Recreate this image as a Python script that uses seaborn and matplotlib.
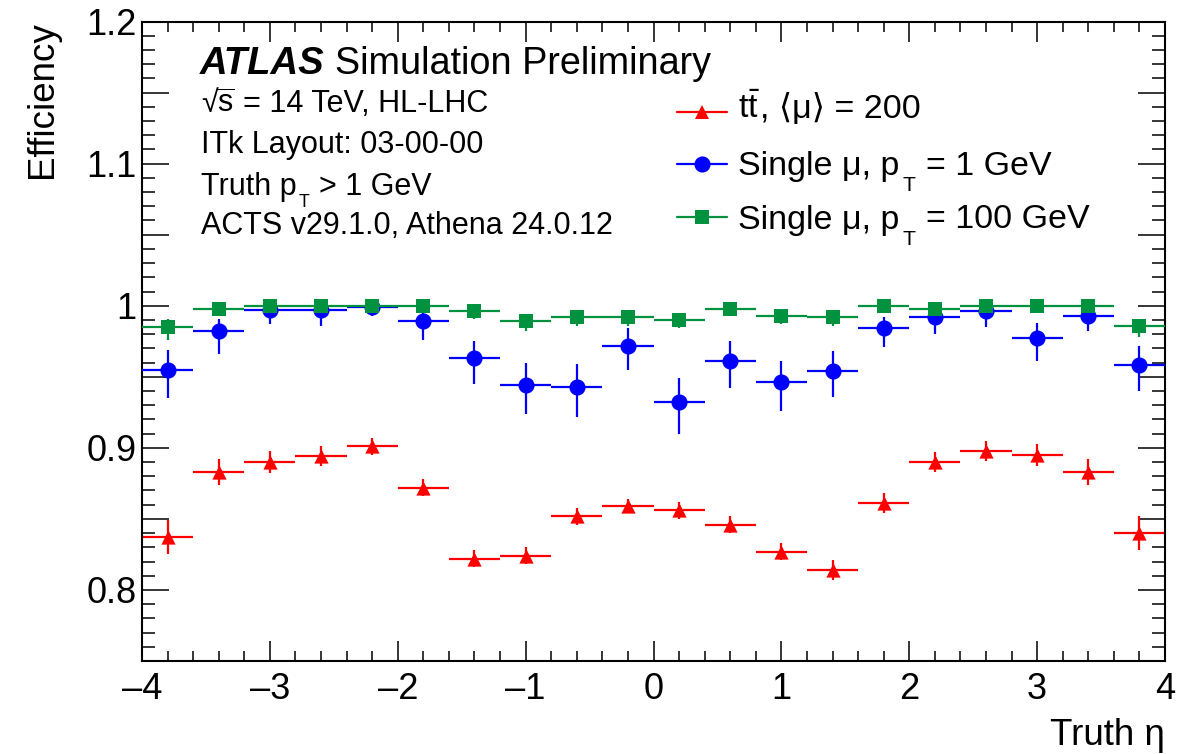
import numpy as np
import pandas as pd
import matplotlib
matplotlib.use("Agg")
import matplotlib.pyplot as plt
from matplotlib.lines import Line2D
from matplotlib.font_manager import FontProperties
from matplotlib.ticker import MultipleLocator, FuncFormatter
import seaborn as sns

# Truth-eta bin centres (bin width 0.4)
eta = [-3.8, -3.4, -3.0, -2.6, -2.2, -1.8, -1.4, -1.0, -0.6, -0.2,
       0.2, 0.6, 1.0, 1.4, 1.8, 2.2, 2.6, 3.0, 3.4, 3.8]
bin_half_width = 0.2

# ttbar, <mu> = 200
ttbar_eff = [0.837, 0.883, 0.890, 0.894, 0.901, 0.872, 0.822, 0.824, 0.852, 0.859,
             0.856, 0.846, 0.827, 0.814, 0.861, 0.890, 0.898, 0.895, 0.883, 0.840]
ttbar_err = [0.012, 0.009, 0.008, 0.007, 0.006, 0.006, 0.006, 0.006, 0.006, 0.005,
             0.006, 0.006, 0.006, 0.007, 0.007, 0.007, 0.007, 0.008, 0.009, 0.012]

# Single muon, pT = 1 GeV
mu1_eff = [0.955, 0.982, 0.997, 0.997, 0.999, 0.989, 0.963, 0.944, 0.943, 0.972,
           0.932, 0.961, 0.946, 0.954, 0.984, 0.992, 0.996, 0.977, 0.993, 0.958]
mu1_err_up = [0.014, 0.009, 0.003, 0.003, 0.001, 0.007, 0.012, 0.016, 0.016, 0.012,
              0.017, 0.014, 0.015, 0.014, 0.008, 0.005, 0.003, 0.011, 0.005, 0.014]
mu1_err_dn = [0.020, 0.016, 0.010, 0.011, 0.006, 0.013, 0.018, 0.020, 0.021, 0.017,
              0.022, 0.019, 0.020, 0.018, 0.013, 0.012, 0.011, 0.016, 0.011, 0.018]

# Single muon, pT = 100 GeV
mu100_eff = [0.985, 0.998, 1.000, 1.000, 1.000, 1.000, 0.996, 0.989, 0.992, 0.992,
             0.990, 0.998, 0.993, 0.992, 1.000, 0.998, 1.000, 1.000, 1.000, 0.986]
mu100_err_up = [0.006, 0.002, 0.0, 0.0, 0.0, 0.0, 0.003, 0.004, 0.003, 0.003,
                0.004, 0.002, 0.003, 0.003, 0.0, 0.002, 0.0, 0.0, 0.0, 0.005]
mu100_err_dn = [0.009, 0.004, 0.001, 0.001, 0.001, 0.001, 0.005, 0.007, 0.006, 0.006,
                0.006, 0.004, 0.006, 0.006, 0.001, 0.004, 0.001, 0.001, 0.001, 0.008]

sample_keys = ["ttbar", "mu1", "mu100"]
colors = {"ttbar": "#ff0000", "mu1": "#0000ff", "mu100": "#00923f"}
markers = {"ttbar": "^", "mu1": "o", "mu100": "s"}
marker_area = {"ttbar": 105, "mu1": 135, "mu100": 100}

sns.set_theme(style="ticks")
FAM = ["Liberation Sans", "DejaVu Sans"]
plt.rcParams["font.family"] = FAM
plt.rcParams["mathtext.fontset"] = "custom"
plt.rcParams["mathtext.rm"] = "Liberation Sans"
plt.rcParams["mathtext.it"] = "Liberation Sans:italic"
plt.rcParams["mathtext.bf"] = "Liberation Sans:bold"
plt.rcParams["axes.unicode_minus"] = True

W, H = 1193, 754
fig = plt.figure(figsize=(W / 100, H / 100), dpi=100)
fig.patch.set_facecolor("white")
ax = fig.add_axes([142 / W, 1 - 661 / H, (1165 - 142) / W, (661 - 21.5) / H])
ax.set_facecolor("white")

frames = []
for key, eff in zip(sample_keys, [ttbar_eff, mu1_eff, mu100_eff]):
    frames.append(pd.DataFrame({"eta": eta, "eff": eff, "sample": key}))
df = pd.concat(frames, ignore_index=True)

errs = {
    "ttbar": (ttbar_err, ttbar_err),
    "mu1": (mu1_err_dn, mu1_err_up),
    "mu100": (mu100_err_dn, mu100_err_up),
}

for z, key in enumerate(sample_keys):
    sub = df[df["sample"] == key]
    lo, hi = errs[key]
    ax.errorbar(sub["eta"], sub["eff"], xerr=bin_half_width,
                yerr=[lo, hi], fmt="none", ecolor=colors[key],
                elinewidth=1.6, capsize=0, zorder=2 + 2 * z)
    sns.scatterplot(data=sub, x="eta", y="eff", marker=markers[key],
                    color=colors[key], s=marker_area[key], linewidth=0,
                    ax=ax, legend=False, zorder=3 + 2 * z)

ax.set_xlim(-4, 4)
ax.set_ylim(0.75, 1.2)

ax.xaxis.set_major_locator(MultipleLocator(1))
ax.xaxis.set_minor_locator(MultipleLocator(0.2))
ax.yaxis.set_major_locator(MultipleLocator(0.05))
ax.yaxis.set_minor_locator(MultipleLocator(0.01))


def ylab(v, pos):
    if abs(v * 10 - round(v * 10)) < 1e-6:
        return f"{v:g}"
    return ""


def xlab(v, pos):
    return f"{v:g}".replace("-", "\u2013")


ax.yaxis.set_major_formatter(FuncFormatter(ylab))
ax.xaxis.set_major_formatter(FuncFormatter(xlab))

for side in ["left", "right", "top", "bottom"]:
    ax.spines[side].set_visible(True)
    ax.spines[side].set_linewidth(1.5)
    ax.spines[side].set_color("black")

ax.tick_params(axis="both", which="both", direction="in", top=True, right=True,
               color="black", width=1.1, labelsize=26, labelcolor="black")
ax.tick_params(axis="x", which="major", length=14.5, pad=8)
ax.tick_params(axis="x", which="minor", length=7.5)
ax.tick_params(axis="y", which="major", length=19.5, pad=4)
ax.tick_params(axis="y", which="minor", length=9.5)
ax.grid(False)

ax.set_xlabel("Truth η", fontsize=26.5, loc="right", labelpad=8, color="black")
ax.set_ylabel("Efficiency", fontsize=26.5, loc="top", labelpad=18.5, color="black")


def fx(px):
    return px / W


def fy(py):
    return 1 - py / H


renderer = fig.canvas.get_renderer()


def text_width(s, size, math=False):
    prop = FontProperties(family=FAM, size=size)
    w, _, _ = renderer.get_text_width_height_descent(s, prop, ismath=math)
    return w


def draw_pieces(x_px, y_px, pieces, size):
    """Draw a run of text pieces; each piece is (text, scale, drop_px, gap_after_em)."""
    x = x_px
    for s, scale, drop, gap in pieces:
        sz = size * scale
        math = "$" in s
        fig.text(fx(x), fy(y_px + drop), s, fontsize=sz, va="baseline",
                 ha="left", color="black")
        x += text_width(s, sz, math) + gap * size / 72 * 100


def sub_drop(size, scale):
    return 0.716 * size * scale / 72 * 100 + 1.0


# ATLAS label
fig.text(fx(200), fy(73.5), "ATLAS", fontsize=27.5, fontweight="bold",
         fontstyle="italic", va="baseline", ha="left", color="black")
fig.text(fx(335), fy(73.5), "Simulation Preliminary", fontsize=27.2,
         va="baseline", ha="left", color="black")

# Information lines
IS = 22
ISUB = 0.58
draw_pieces(201, 112.5, [("√", 1, 0, -0.03),
                         (r"$\overline{\mathrm{s}}$", 1, 0, 0.28),
                         ("= 14 TeV, HL-LHC", 1, 0, 0)], IS)
fig.text(fx(201), fy(153.5), "ITk Layout: 03-00-00",
         fontsize=IS, va="baseline", ha="left", color="black")
draw_pieces(201, 195, [("Truth p", 1, 0, 0.08),
                       ("T", ISUB, sub_drop(IS, ISUB) - 1.5, 0.30),
                       ("> 1 GeV", 1, 0, 0)], IS)
fig.text(fx(201), fy(233.5), "ACTS v29.1.0, Athena 24.0.12",
         fontsize=IS, va="baseline", ha="left", color="black")

# Legend: line through the marker, then the label
LS = 24.5
LSUB = 0.62
leg_marker_y = [111.5, 163.5, 216.5]
leg_text_y = [118.5, 175, 228.5]
leg_pieces = [
    [(r"$\mathrm{t\bar{t}}$", 1, 0, 0.0), (", ⟨μ⟩ = 200", 1, 0, 0)],
    [("Single μ, p", 1, 0, 0.10), ("T", LSUB, sub_drop(LS, LSUB), 0.30),
     ("= 1 GeV", 1, 0, 0)],
    [("Single μ, p", 1, 0, 0.10), ("T", LSUB, sub_drop(LS, LSUB), 0.30),
     ("= 100 GeV", 1, 0, 0)],
]
for key, pieces, ym, yt in zip(sample_keys, leg_pieces, leg_marker_y, leg_text_y):
    fig.add_artist(Line2D([fx(677), fx(702), fx(727)], [fy(ym)] * 3,
                          transform=fig.transFigure, color=colors[key],
                          lw=1.6, marker=markers[key], markevery=[1],
                          markersize=np.sqrt(marker_area[key]),
                          markeredgewidth=0))
    draw_pieces(738, yt, pieces, LS)

fig.savefig("out.png", dpi=100, facecolor="white")
